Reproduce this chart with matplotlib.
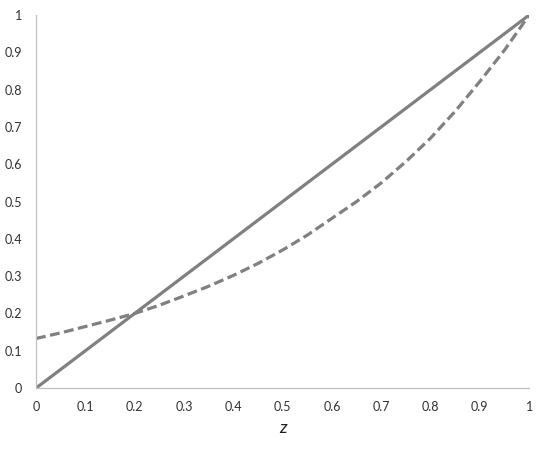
import matplotlib
matplotlib.use("Agg")
import matplotlib.pyplot as plt

z = [0.0, 0.05, 0.1, 0.15, 0.2, 0.25, 0.3, 0.35, 0.4, 0.45, 0.5,
     0.55, 0.6, 0.65, 0.7, 0.75, 0.8, 0.85, 0.9, 0.95, 1.0]
solid = [0.0, 0.05, 0.1, 0.15, 0.2, 0.25, 0.3, 0.35, 0.4, 0.45, 0.5,
         0.55, 0.6, 0.65, 0.7, 0.75, 0.8, 0.85, 0.9, 0.95, 1.0]
dashed = [0.133, 0.148, 0.165, 0.182, 0.200, 0.222, 0.247, 0.273, 0.302, 0.334, 0.370,
          0.410, 0.455, 0.500, 0.550, 0.607, 0.670, 0.742, 0.822, 0.906, 1.0]
ticks = [0, 0.1, 0.2, 0.3, 0.4, 0.5, 0.6, 0.7, 0.8, 0.9, 1]
tick_labels = ["0", "0.1", "0.2", "0.3", "0.4", "0.5", "0.6", "0.7", "0.8", "0.9", "1"]

plt.rcParams['font.family'] = ['Lato', 'DejaVu Sans']

fig = plt.figure(figsize=(5.45, 4.55), dpi=100)
ax = fig.add_axes([0.066, 0.147, 0.905, 0.820])

col = '#808080'
ax.plot(z, solid, color=col, lw=2.3, solid_capstyle='butt')
ax.plot(z, dashed, color=col, lw=2.3, dashes=(3.1, 1.4), dash_capstyle='butt')

ax.set_xlim(0, 1)
ax.set_ylim(0, 1)
ax.set_xticks(ticks)
ax.set_xticklabels(tick_labels)
ax.set_yticks(ticks)
ax.set_yticklabels(tick_labels)

for s in ['top', 'right']:
    ax.spines[s].set_visible(False)
for s in ['left', 'bottom']:
    ax.spines[s].set_color('#c0c0c0')
    ax.spines[s].set_linewidth(0.9)

ax.tick_params(axis='both', length=0, labelsize=9, labelcolor='#303030')
ax.tick_params(axis='x', pad=9)
ax.tick_params(axis='y', pad=10)

ax.set_xlabel('z', fontsize=13, fontstyle='italic', color='#202020', labelpad=5)

fig.savefig('out.png', dpi=100)
